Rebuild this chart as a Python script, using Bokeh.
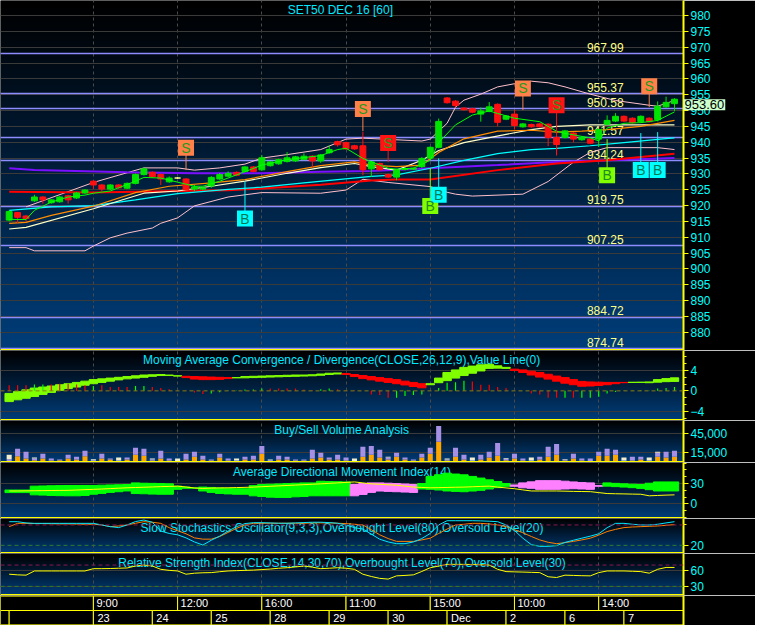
import numpy as np
from bokeh.plotting import figure
from bokeh.layouts import column
from bokeh.models import (Range1d, FixedTicker, SingleIntervalTicker, Span, Label,
                          ColumnDataSource, NumeralTickFormatter)
from bokeh.embed import file_html
from bokeh.resources import INLINE
from bokeh.core.properties import value

# ------------------------------------------------------------------ data
TITLE = "SET50 DEC 16  [60]"
LAST_PRICE = 953.60
PRICE_TICKS = list(range(880, 985, 5))

OPEN = [915.4, 917.8, 916.7, 921.5, 922.7, 920.9, 921.2, 923.1, 922.4, 924.0,
        927.7, 926.5, 925.2, 926.5, 925.5, 927.0, 929.8, 930.5, 929.8, 927.5,
        928.7, 928.4, 925.2, 925.2, 926.2, 928.4, 929.3, 930.5, 930.8, 932.2,
        931.3, 932.6, 933.2, 933.9, 934.1, 934.6, 935.6, 934.1, 936.7, 940.2,
        939.9, 938.9, 938.9, 931.6, 933.3, 929.8, 929.0, 931.4, 931.5, 932.3,
        935.0, 938.4, 954.0, 953.0, 950.8, 950.6, 948.9, 949.8, 952.0, 947.3,
        948.9, 944.9, 945.6, 945.8, 945.7, 941.5, 941.5, 942.9, 940.8, 941.0,
        941.0, 945.7, 946.7, 948.2, 947.6, 946.5, 947.6, 947.1, 951.2, 952.2]
CLOSE = [918.1, 916.3, 915.9, 922.7, 921.8, 921.8, 922.7, 921.8, 924.0, 924.9,
         926.5, 925.2, 926.5, 925.6, 927.0, 929.8, 931.6, 929.1, 928.4, 928.7,
         928.7, 925.0, 925.9, 925.6, 928.9, 929.8, 930.2, 929.6, 932.2, 930.8,
         935.1, 933.8, 934.5, 935.1, 935.4, 935.6, 934.1, 936.0, 937.7, 939.2,
         937.9, 937.9, 931.3, 933.8, 931.3, 929.0, 931.3, 931.7, 931.8, 934.9,
         938.4, 946.6, 952.5, 951.6, 950.3, 949.5, 949.9, 951.2, 946.3, 948.3,
         945.3, 945.8, 944.9, 944.9, 941.5, 939.3, 943.6, 941.0, 941.5, 939.7,
         944.0, 946.9, 948.2, 946.7, 946.2, 948.2, 946.5, 951.4, 952.6, 953.6]
HIGH = [918.5, 918.0, 917.0, 923.4, 923.0, 922.0, 923.0, 923.4, 924.3, 925.2,
        928.0, 926.8, 926.8, 926.8, 927.3, 930.1, 932.0, 930.8, 930.1, 929.2,
        929.0, 928.7, 926.5, 926.0, 929.3, 930.3, 930.8, 930.8, 932.5, 932.5,
        936.0, 934.1, 934.8, 936.9, 935.7, 936.5, 935.9, 936.3, 939.0, 940.5,
        940.2, 939.2, 943.3, 934.1, 933.6, 930.1, 931.6, 932.0, 932.0, 935.3,
        938.7, 947.5, 954.3, 953.3, 951.1, 950.9, 951.0, 952.7, 952.3, 948.6,
        950.2, 946.1, 945.9, 946.1, 946.0, 941.8, 943.9, 943.2, 941.8, 941.3,
        944.3, 948.5, 949.2, 948.5, 947.9, 948.5, 947.9, 952.9, 954.4, 953.9]
LOW = [915.0, 914.5, 914.9, 921.2, 920.6, 920.6, 920.9, 920.6, 922.1, 923.7,
       925.2, 924.6, 924.9, 925.3, 925.2, 926.7, 929.5, 928.8, 926.5, 927.2,
       928.4, 924.7, 924.6, 924.9, 925.6, 928.1, 929.0, 929.3, 930.5, 930.5,
       931.0, 932.3, 932.9, 933.6, 933.8, 934.3, 932.0, 933.5, 936.4, 938.6,
       937.6, 937.6, 929.6, 929.0, 931.0, 928.7, 928.0, 931.1, 931.2, 931.9,
       934.7, 938.1, 952.2, 951.0, 950.0, 949.2, 946.5, 949.5, 945.0, 947.0,
       944.0, 944.6, 944.6, 944.6, 938.8, 936.1, 941.2, 940.0, 940.5, 939.4,
       938.5, 945.4, 946.4, 946.4, 945.9, 946.2, 946.2, 946.6, 950.9, 949.9]

# moving averages / bands: (bar, value) pairs
BB_UP_X = [2, 10, 16, 20, 22, 25, 28, 30, 33, 37, 40, 42, 49, 50, 52, 53, 54, 56, 58, 60,
           62, 64, 66, 69, 72, 76, 77, 79]
BB_UP_Y = [919.6, 927.3, 931.9, 931.9, 931.2, 931.9, 933.1, 935.0, 936.1, 937.7,
           941.0, 941.3, 940.4, 941.0, 946.0, 951.1, 953.3, 955.2, 957.5, 958.5,
           959.3, 958.8, 957.5, 955.2, 953.2, 951.7, 951.4, 953.2]
BB_LO_X = [0, 2, 3, 9, 10, 12, 14, 17, 18, 20, 22, 26, 30, 37, 40, 42, 45, 50, 52, 53,
           55, 61, 64, 67, 69, 71, 77, 79]
BB_LO_Y = [906.7, 906.7, 905.7, 905.7, 907.2, 909.8, 911.3, 912.9, 914.4, 916.1,
           919.9, 922.7, 924.1, 923.9, 924.9, 928.3, 927.3, 926.0, 924.2, 923.6,
           923.0, 923.6, 927.6, 933.7, 936.8, 938.3, 938.3, 937.7]
MA_GREEN_X = [0, 2, 3, 5, 7, 9, 10, 12, 15, 16, 18, 20, 22, 23, 25, 28, 30, 33, 37, 39,
              40, 42, 44, 45, 46, 48, 50, 51, 53, 55, 57, 58, 60, 63, 65, 66, 69, 70, 71, 73,
              75, 77, 79]
MA_GREEN_Y = [915.6, 915.6, 918.5, 921.1, 922.7, 923.3, 923.9, 924.6, 927.7, 928.9,
              928.7, 927.4, 926.1, 926.1, 927.7, 930.7, 932.8, 934.5, 935.8, 937.7,
              938.1, 934.9, 932.8, 931.8, 931.5, 931.8, 934.3, 939.9, 945.5, 948.6,
              949.9, 949.1, 947.6, 946.5, 943.5, 942.8, 941.4, 940.4, 944.5, 946.0,
              946.2, 946.9, 949.6]
MA_ORANGE_X = [0, 2, 5, 10, 15, 19, 24, 28, 33, 37, 41, 43, 46, 49, 51, 54, 58, 62, 65, 68,
               71, 75, 79]
MA_ORANGE_Y = [914.4, 914.7, 916.9, 919.8, 924.1, 926.1, 927.2, 928.2, 930.7, 932.6,
               933.8, 932.8, 932.3, 932.8, 936.8, 941.1, 943.5, 943.8, 943.2, 943.5,
               944.0, 945.0, 946.9]
MA_CREAM_X = [0, 2, 10, 16, 20, 24, 28, 33, 37, 41, 43, 46, 49, 51, 54, 59, 62, 65, 69, 73, 79]
MA_CREAM_Y = [912.6, 913.1, 919.0, 923.9, 924.6, 926.1, 927.7, 930.2, 932.0, 933.3,
              932.3, 931.2, 934.3, 937.4, 939.9, 942.5, 944.0, 945.0, 945.5, 945.5, 945.5]
MA_CYAN_X = [0, 5, 10, 15, 20, 26, 30, 35, 39, 43, 46, 50, 54, 58, 62, 65, 69, 73, 77, 79]
MA_CYAN_Y = [918.5, 919.6, 920.0, 921.8, 923.8, 925.1, 925.8, 927.2, 928.2, 929.2,
             929.7, 931.8, 934.3, 936.4, 937.7, 938.1, 938.9, 939.9, 940.9, 941.4]
MA_RED_X = [0, 10, 20, 26, 30, 37, 43, 46, 50, 58, 65, 71, 79]
MA_RED_Y = [924.4, 924.1, 924.6, 924.8, 925.4, 926.6, 927.9, 928.2, 928.2, 931.2,
            933.3, 934.3, 936.4]
MA_PURPLE_X = [0, 3, 14, 22, 30, 37, 43, 50, 58, 65, 73, 79]
MA_PURPLE_Y = [931.8, 931.2, 930.5, 930.2, 930.2, 930.7, 930.9, 931.8, 932.8, 933.8,
               934.5, 935.0]

LEVELS = [967.99, 955.37, 950.58, 941.57, 934.24, 919.75, 907.25, 884.72, 874.74]

# trade signals: bar, kind, price of the marker box, price where its stem ends
SIG_IDX = [21, 28, 42, 45, 50, 51, 61, 65, 71, 75, 76, 77]
SIG_KIND = ["S1", "B1", "S1", "S2", "B2", "B1", "S1", "S2", "B2", "B1", "S1", "B1"]
SIG_BOX = [938.3, 915.9, 950.5, 939.8, 919.9, 923.4, 957.0, 951.7, 929.6, 931.2, 957.7, 931.2]
SIG_TIP = [931.2, 927.6, 943.5, 933.7, 931.9, 934.9, 950.2, 935.8, 941.0, 942.9, 951.1, 943.2]

MACD = [-0.5, -0.15, 0.2, 0.55, 0.75, 0.95, 1.2, 1.4, 1.65, 1.9,
        2.2, 2.35, 2.5, 2.65, 2.8, 2.95, 3.1, 3.15, 3.2, 3.1,
        2.95, 2.6, 2.3, 2.2, 2.2, 2.25, 2.4, 2.6, 2.8, 2.85,
        2.9, 2.95, 3.0, 3.05, 3.1, 3.1, 3.15, 3.3, 3.45, 3.5,
        3.2, 2.8, 2.4, 2.15, 1.9, 1.65, 1.4, 1.15, 0.85, 0.6,
        1.4, 2.5, 3.6, 4.1, 4.6, 4.85, 5.1, 5.2, 4.9, 4.6,
        4.0, 3.6, 3.1, 2.7, 2.3, 1.9, 1.5, 1.2, 0.9, 0.95,
        1.05, 1.2, 1.4, 1.6, 1.68, 1.7, 1.75, 2.2, 2.4, 2.55]
SIGNAL = [-2.1, -1.75, -1.45, -1.1, -0.7, -0.3, 0.1, 0.45, 0.75, 1.1,
          1.4, 1.65, 1.9, 2.15, 2.35, 2.5, 2.65, 2.85, 3.0, 3.0,
          2.9, 2.85, 2.8, 2.75, 2.7, 2.65, 2.6, 2.55, 2.55, 2.6,
          2.65, 2.7, 2.75, 2.8, 2.85, 2.9, 2.95, 3.05, 3.2, 3.3,
          3.4, 3.2, 3.0, 2.8, 2.6, 2.4, 2.2, 1.9, 1.65, 1.4,
          1.2, 1.6, 2.0, 2.5, 3.0, 3.45, 3.9, 4.4, 4.45, 4.4,
          4.25, 4.1, 3.85, 3.6, 3.25, 2.9, 2.6, 2.2, 1.85, 1.75,
          1.7, 1.65, 1.65, 1.65, 1.65, 1.65, 1.6, 1.7, 1.8, 1.85]
HIST = [1.08, 1.08, 1.08, 1.27, 1.27, 1.27, 1.4, 1.4, 1.27, 1.08,
        0.95, 1.08, 0.76, 0.76, 0.76, 0.95, 0.95, 0.76, 0.57, 0.32,
        0.05, -0.05, -0.32, -0.63, -0.5, -0.25, -0.05, 0.05, 0.25, 0.25,
        0.44, 0.44, 0.44, 0.44, 0.44, 0.25, 0.13, 0.32, 0.44, 0.32,
        0.13, 0.13, 0.0, -0.7, -0.83, -1.33, -1.33, -1.0, -0.83, -0.7,
        0.0, 0.57, 1.6, 1.7, 2.0, 1.84, 1.2, 1.2, 0.76, 0.57,
        0.0, 0.0, -0.5, -0.7, -1.33, -1.33, -1.33, -1.33, -1.33, -1.33,
        -1.14, -0.5, -0.2, -0.05, 0.05, 0.13, 0.05, 0.44, 0.57, 0.76]
HIST_DIR = ("rrrggrrrrr" "grrrrggrrr" "rrrrgggggg" "grrrrrrggr"
            "rrrrrrgggg" "gggggrrrrr" "rrrrrrgrgg" "gggggggggg")

VOL_BUY = [0, 9500, 6000, 3500, 6000, 3000, 3500, 6000, 4500, 9500,
           2000, 6000, 4500, 1500, 4500, 12000, 10500, 3000, 6000, 3000,
           2000, 4500, 9000, 4500, 3000, 7500, 3000, 1500, 4500, 4500,
           13500, 2000, 4500, 4500, 3000, 3000, 6000, 7500, 4500, 4500,
           3000, 2000, 9000, 12000, 7500, 4500, 9000, 4500, 3000, 7500,
           13500, 32000, 3000, 9000, 4500, 1500, 4500, 7500, 10500, 3500,
           6000, 3000, 1500, 4500, 9000, 12000, 3000, 6000, 3000, 1500,
           10500, 10500, 12000, 1500, 3000, 4500, 1500, 9000, 7500, 9000]
VOL_SELL = [5000, 11500, 10500, 2500, 7500, 3000, 1000, 6000, 4500, 8500,
            1500, 7500, 1500, 1500, 3000, 10500, 10500, 2000, 12000, 3000,
            0, 9000, 7500, 6000, 1500, 6000, 3000, 1500, 4500, 6000,
            12000, 1500, 6000, 4500, 1500, 1500, 13500, 7500, 3000, 7500,
            4500, 0, 15000, 13500, 12000, 3000, 6000, 3000, 1500, 6000,
            9000, 24000, 1500, 13500, 7500, 1500, 7500, 9000, 19500, 2000,
            7500, 3000, 1500, 4500, 15000, 16500, 1500, 7500, 3000, 4500,
            6000, 10500, 7500, 1500, 6000, 4500, 1500, 6000, 9000, 9000]
VOL_NEUTRAL = [7000, 0, 0, 1500, 0, 0, 0, 0, 0, 0,
               1500, 0, 0, 4500, 0, 0, 0, 1000, 0, 0,
               4000, 0, 0, 0, 0, 0, 0, 3000, 0, 0,
               0, 1000, 0, 0, 0, 0, 0, 0, 0, 0,
               0, 4000, 0, 0, 0, 1500, 0, 0, 0, 0,
               0, 0, 1500, 0, 0, 4500, 0, 0, 0, 1000,
               0, 0, 4500, 0, 0, 0, 1000, 0, 0, 0,
               0, 0, 0, 4500, 0, 0, 4500, 1500, 0, 0]

DI_PLUS = [20.5, 20.5, 20.5, 26.2, 26.5, 26.8, 27.0, 27.2, 27.2, 27.2,
           27.2, 27.6, 28.0, 28.3, 28.6, 31.0, 30.5, 30.3, 30.0, 29.6,
           26.2, 24.8, 23.5, 24.8, 24.3, 23.5, 23.0, 22.5, 22.4, 27.0,
           28.6, 29.0, 29.5, 30.0, 30.5, 31.0, 31.0, 33.4, 33.0, 32.8,
           32.4, 12.0, 14.0, 17.0, 19.0, 18.5, 18.0, 17.5, 17.0, 30.0,
           40.5, 43.0, 45.3, 44.0, 42.9, 40.5, 38.1, 35.5, 33.0, 30.0,
           26.0, 23.8, 23.0, 21.5, 21.5, 21.5, 22.0, 22.4, 22.0, 21.5,
           26.0, 31.0, 30.3, 29.6, 29.0, 28.6, 30.5, 32.4, 32.4, 32.4]
DI_MINUS = [16.7, 16.7, 16.7, 13.4, 13.0, 12.5, 12.2, 12.0, 12.0, 12.5,
            14.3, 15.5, 17.0, 18.0, 19.1, 15.3, 15.0, 14.5, 14.3, 14.3,
            21.5, 23.0, 23.3, 19.1, 17.0, 15.5, 14.8, 14.3, 14.3, 12.0,
            11.0, 10.0, 9.6, 9.6, 10.5, 11.0, 12.0, 12.0, 12.0, 12.0,
            12.0, 28.6, 30.0, 31.0, 31.0, 30.5, 30.0, 29.3, 28.6, 22.0,
            21.5, 20.5, 19.1, 18.5, 18.0, 19.0, 20.0, 22.0, 24.0, 26.0,
            28.0, 31.0, 32.5, 34.3, 34.3, 34.3, 33.5, 32.4, 31.5, 31.0,
            27.0, 26.2, 25.5, 24.8, 24.0, 22.9, 21.0, 19.1, 19.1, 19.1]
ADX = [19.1, 19.1, 19.3, 19.5, 19.6, 19.8, 19.9, 20.0, 20.5, 21.0,
       21.5, 22.0, 22.6, 23.2, 23.8, 24.2, 24.6, 25.0, 25.5, 25.8,
       26.2, 25.0, 23.5, 22.9, 23.3, 23.6, 23.8, 24.1, 24.4, 24.8,
       25.4, 26.0, 26.6, 27.2, 27.8, 28.4, 29.0, 29.6, 30.3, 31.0,
       31.7, 32.4, 31.0, 29.6, 28.9, 28.2, 27.6, 26.2, 24.8, 24.3,
       23.8, 24.0, 24.3, 24.6, 24.8, 25.3, 25.8, 26.2, 24.8, 23.6,
       22.4, 20.7, 19.1, 19.1, 19.1, 19.1, 18.8, 18.5, 18.3, 18.1,
       16.7, 15.3, 15.0, 14.8, 14.5, 14.3, 12.0, 12.5, 13.0, 13.4]

STOCH_K = [89.6, 89.6, 86, 84.7, 84.7, 84.7, 84.7, 84.7, 84.7, 84.7,
           84.7, 80, 75, 72.2, 80, 90, 94.5, 88, 62, 55,
           51, 42, 30, 20.9, 35, 47, 62, 75, 84, 86.7,
           86.7, 86, 85, 85, 86, 87, 88, 88, 87, 85,
           80, 72, 68, 53, 38, 30, 24.9, 24.9, 30, 40,
           55, 80, 92.5, 92.5, 92.5, 92.5, 92, 91, 89.6, 80,
           63.5, 41, 22, 17.1, 17.1, 19.1, 28.7, 35, 41.1, 47,
           53.9, 72, 84.7, 84.7, 82, 80, 80, 82, 86, 89.6]
STOCH_D = [75, 84.7, 84.7, 84, 84, 83.5, 83, 83, 82.5, 82,
           82, 80, 75, 77, 80, 85, 89.6, 88, 84.7, 72,
           63, 54, 42, 38.2, 38.2, 46, 58, 70, 80, 84.7,
           85, 85, 85, 85, 85, 85, 86, 86, 86, 85,
           84, 82, 80, 66, 51, 40, 31.6, 31.6, 31.6, 36,
           41.1, 55, 68, 80, 82, 84.7, 84.7, 83, 80, 75,
           66, 57, 46, 36, 29, 24.9, 28, 31.6, 36, 41.1,
           50, 60.6, 67, 72.2, 74, 75, 76, 77, 79, 81]
RSI = [52.8, 51.6, 51, 58.9, 58.9, 58.9, 58.9, 58.9, 58.9, 58.9,
       63.2, 63.2, 63.5, 64, 64.5, 68.2, 70, 68.2, 62, 60,
       58.9, 52.8, 54.7, 55.5, 55.8, 57.5, 58.9, 59.5, 60, 60.5,
       61.5, 62.5, 64, 65, 66.5, 68.2, 66, 63.2, 64, 65,
       64, 62, 52.8, 48.5, 45, 43.6, 49.7, 50.5, 51.6, 58,
       65, 68, 71.3, 71.3, 71.3, 71, 70.5, 70, 62, 57.7,
       57.2, 56.8, 56.3, 55.8, 48, 46.6, 51, 50.5, 50, 49.7,
       55.8, 58.9, 58.9, 58.9, 58.3, 57.7, 54.7, 62, 65.5, 65.5]

TIME_TICK_BARS = [10, 20, 30, 40, 50, 60, 70]
TIME_LABELS = ["9:00", "12:00", "16:00", "11:00", "15:00", "10:00", "14:00"]
DAY_START_BARS = [0, 10, 17, 24, 31, 38, 45, 52, 59, 66, 73]
DAY_LABELS = ["", "23", "24", "25", "28", "29", "30", "Dec", "2", "6", "7"]

PANEL_TITLES = {
    "macd": "Moving Average Convergence / Divergence(CLOSE,26,12,9),Value Line(0)",
    "vol": "Buy/Sell Volume Analysis",
    "adx": "Average Directional Movement Index(14)",
    "stoch": "Slow Stochastics Oscillator(9,3,3),Overbought Level(80),Oversold Level(20)",
    "rsi": "Relative Strength Index(CLOSE,14,30,70),Overbought Level(70),Oversold Level(30)",
}

# ------------------------------------------------------------------ style / layout
FONT = "Liberation Sans"
W = 755
AXIS_W = 40
X0, X1 = -1.03, 80.07
XMID = (X0 + X1) / 2
LEVEL_LABEL_X = 68.6
YELLOW = "#ffff00"
CYAN_TXT = "#00e8ff"
BAR = list(range(len(OPEN)))
xr = Range1d(X0, X1)


def gradient(n=200):
    t = np.linspace(0.0, 1.0, n)[:, None]
    bottom = np.array([0, 62, 122], float)[None, :]
    top = np.array([0, 0, 0], float)[None, :]
    rgb = bottom * (1 - t) + top * t
    img = np.empty((n, 1, 4), dtype=np.uint8)
    img[:, 0, :3] = rgb.astype(np.uint8)
    img[:, 0, 3] = 255
    return img.view(np.uint32).reshape(n, 1)


GRAD = gradient()


def panel(h, y0, y1, ticker, title=None):
    p = figure(width=W, height=h, x_range=xr, y_range=Range1d(y0, y1),
               output_backend="svg", toolbar_location=None, tools="",
               y_axis_location="right", min_border_left=0, min_border_right=AXIS_W,
               min_border_top=0, min_border_bottom=0)
    p.xaxis.visible = False
    p.outline_line_color = None
    p.background_fill_color = "black"
    p.border_fill_color = "black"
    p.image_rgba(image=[GRAD], x=X0, y=y0, dw=X1 - X0, dh=y1 - y0, level="image")
    p.xgrid.ticker = FixedTicker(ticks=TIME_TICK_BARS)
    p.xgrid.grid_line_color = "#4a4a4a"
    p.xgrid.grid_line_dash = "3 3"
    p.ygrid.grid_line_color = "#3a3a3a"
    ax = p.yaxis[0]
    ax.ticker = ticker
    ax.axis_line_color = YELLOW
    ax.axis_line_width = 2
    ax.major_tick_line_color = YELLOW
    ax.minor_tick_line_color = YELLOW
    ax.major_tick_in = 0
    ax.major_tick_out = 5
    ax.minor_tick_in = 0
    ax.minor_tick_out = 3
    ax.major_label_text_color = "#00ffff"
    ax.major_label_text_font = FONT
    ax.major_label_text_font_size = "12px"
    ax.major_label_standoff = 2
    p.add_layout(Span(location=y0, dimension="width", line_color=YELLOW, line_width=3))
    if title:
        p.text(x=[XMID], y=[y1], text=[title], text_align="center", text_baseline="top",
               y_offset=2, text_color=CYAN_TXT, text_font=value(FONT), text_font_size="12px")
    return p


# ------------------------------------------------------------------ main price panel
pm = panel(350, 874.2, 984.8, FixedTicker(ticks=PRICE_TICKS), TITLE)
pm.hspan(y=LEVELS, line_color="#8c8cff", line_width=1.5)
pm.text(x=[LEVEL_LABEL_X] * len(LEVELS), y=LEVELS, text=[f"{v:.2f}" for v in LEVELS],
        text_baseline="bottom", y_offset=-2, text_color="#ffff88",
        text_font=value(FONT), text_font_size="12px")

pm.line(BB_LO_X, BB_LO_Y, line_color="#ffc0cc", line_width=1)
pm.line(BB_UP_X, BB_UP_Y, line_color="#ffc0cc", line_width=1)
pm.line(MA_PURPLE_X, MA_PURPLE_Y, line_color="#7a10ff", line_width=2)
pm.line(MA_RED_X, MA_RED_Y, line_color="#ff0000", line_width=2)
pm.line(MA_CYAN_X, MA_CYAN_Y, line_color="#00ffff", line_width=1.2)
pm.line(MA_CREAM_X, MA_CREAM_Y, line_color="#ffffc8", line_width=1.2)
pm.line(MA_ORANGE_X, MA_ORANGE_Y, line_color="#ff8c00", line_width=1.2)

cols = ["#00e400" if c > o else ("#ff1010" if c < o else "#ffff80") for o, c in zip(OPEN, CLOSE)]
csrc = ColumnDataSource(dict(x=BAR, h=HIGH, l=LOW, col=cols,
                             top=[max(o, c) for o, c in zip(OPEN, CLOSE)],
                             bot=[min(o, c) for o, c in zip(OPEN, CLOSE)]))
pm.segment(x0="x", y0="h", x1="x", y1="l", line_color="col", line_width=1, source=csrc)
pm.vbar(x="x", width=0.7, top="top", bottom="bot", fill_color="col", line_color="col", source=csrc)
pm.line(MA_GREEN_X, MA_GREEN_Y, line_color="#00ff00", line_width=1)

SIG_FILL = {"S1": "#ff8048", "S2": "#ff1414", "B1": "#00ffff", "B2": "#80ff00"}
SIG_TEXT = {"S1": "#1f9a1f", "S2": "#1f9a1f", "B1": "#007a55", "B2": "#1f8a1f"}
ssrc = ColumnDataSource(dict(x=SIG_IDX, box=SIG_BOX, tip=SIG_TIP,
                             fill=[SIG_FILL[k] for k in SIG_KIND],
                             tcol=[SIG_TEXT[k] for k in SIG_KIND],
                             letter=[k[0] for k in SIG_KIND]))
pm.segment(x0="x", y0="box", x1="x", y1="tip", line_color="fill", line_width=1, source=ssrc)
pm.rect(x="x", y="box", width=16, height=16, width_units="screen", height_units="screen",
        fill_color="fill", line_color=None, source=ssrc)
pm.text(x="x", y="box", text="letter", text_align="center", text_baseline="middle",
        text_color="tcol", text_font=value(FONT), text_font_size="14px", source=ssrc)

# last-price tag drawn in the right-hand margin (side panel, so it is not clipped)
pm.add_layout(Label(x=X1, y=LAST_PRICE, text=f"{LAST_PRICE:.2f}", text_align="left",
                    text_baseline="top", text_color="black", text_font=FONT,
                    text_font_size="13px", background_fill_color="#ccffcc", padding=1),
              "right")

# ------------------------------------------------------------------ MACD
pmacd = panel(70, -5.8, 7.9, SingleIntervalTicker(interval=4, num_minor_ticks=3), PANEL_TITLES["macd"])
pmacd.ygrid.ticker = FixedTicker(ticks=[-4, 4])
msrc = ColumnDataSource(dict(
    x=BAR, top=[max(a, b) for a, b in zip(MACD, SIGNAL)],
    bot=[min(a, b) for a, b in zip(MACD, SIGNAL)],
    col=["#80ff00" if a >= b else "#ff0000" for a, b in zip(MACD, SIGNAL)],
    hist=HIST, hcol=["#00ff00" if d == "g" else "#ff0000" for d in HIST_DIR]))
pmacd.vbar(x="x", width=1.0, top="top", bottom="bot", fill_color="col", line_color="col", source=msrc)
pmacd.add_layout(Span(location=0, dimension="width", line_color="#8a7a10", line_dash="4 3", line_width=1))
pmacd.vbar(x="x", width=0.14, top="hist", bottom=0, fill_color="hcol", line_color=None, source=msrc)

# ------------------------------------------------------------------ volume
pv = panel(42, 0, 64500, FixedTicker(ticks=[15000, 45000]), PANEL_TITLES["vol"])
pv.yaxis.formatter = NumeralTickFormatter(format="0,0")
b1 = VOL_BUY
b2 = [a + b for a, b in zip(VOL_BUY, VOL_SELL)]
b3 = [a + b for a, b in zip(b2, VOL_NEUTRAL)]
pv.vbar(x=BAR, width=0.6, bottom=0, top=b1, fill_color="#ffa500", line_color=None)
pv.vbar(x=BAR, width=0.6, bottom=b1, top=b2, fill_color="#a690e6", line_color=None)
pv.vbar(x=BAR, width=0.6, bottom=b2, top=b3, fill_color="#f3edcc", line_color=None)

# ------------------------------------------------------------------ ADX
padx = panel(56, -21.4, 61, FixedTicker(ticks=[0, 30], minor_ticks=[-20, -10, 10, 20, 40, 50, 60]),
             PANEL_TITLES["adx"])
asrc = ColumnDataSource(dict(
    x=BAR, top=[max(a, b) for a, b in zip(DI_PLUS, DI_MINUS)],
    bot=[min(a, b) for a, b in zip(DI_PLUS, DI_MINUS)],
    col=["#00ff00" if a >= b else "#ff80ff" for a, b in zip(DI_PLUS, DI_MINUS)]))
padx.vbar(x="x", width=1.0, top="top", bottom="bot", fill_color="col", line_color="col", source=asrc)
padx.line(BAR, ADX, line_color="#ffff00", line_width=1)

# ------------------------------------------------------------------ Stochastics
pst = panel(35, -4, 99, FixedTicker(ticks=[20], minor_ticks=[80]), PANEL_TITLES["stoch"])
pst.ygrid.grid_line_color = None
pst.add_layout(Span(location=80, dimension="width", line_color="#8a1850", line_dash="4 3", line_width=1))
pst.add_layout(Span(location=20, dimension="width", line_color="#2f7a2f", line_dash="4 3", line_width=1))
pst.line(BAR, STOCH_D, line_color="#ff8000", line_width=1)
pst.line(BAR, STOCH_K, line_color="#00e8ff", line_width=1)

# ------------------------------------------------------------------ RSI
prsi = panel(42, 12.8, 91.7, FixedTicker(ticks=[30, 60]), PANEL_TITLES["rsi"])
prsi.add_layout(Span(location=70, dimension="width", line_color="#8a1850", line_dash="4 3", line_width=1))
prsi.add_layout(Span(location=30, dimension="width", line_color="#2f7a2f", line_dash="4 3", line_width=1))
prsi.line(BAR, RSI, line_color="#ffff00", line_width=1)

# ------------------------------------------------------------------ time axis
pa = figure(width=W, height=30, x_range=xr, y_range=Range1d(-0.04, 2.04),
            output_backend="svg", toolbar_location=None, tools="",
            y_axis_location="right", min_border_left=0, min_border_right=AXIS_W,
            min_border_top=0, min_border_bottom=0)
pa.xaxis.visible = False
pa.grid.visible = False
pa.outline_line_color = None
pa.background_fill_color = "black"
pa.border_fill_color = "black"
pa.yaxis.ticker = FixedTicker(ticks=[])
pa.yaxis.axis_line_color = YELLOW
pa.yaxis.axis_line_width = 2
pa.yaxis.major_label_text_font_size = "0px"
tl = [X0] + TIME_TICK_BARS
tr = TIME_TICK_BARS + [X1]
pa.quad(left=tl, right=tr, bottom=1, top=2, fill_color="black", line_color=YELLOW, line_width=1)
dl = [X0] + DAY_START_BARS
dr = DAY_START_BARS + [X1]
pa.quad(left=dl, right=dr, bottom=0, top=1, fill_color="black", line_color=YELLOW, line_width=1)
pa.text(x=TIME_TICK_BARS, y=[1.5] * len(TIME_TICK_BARS), text=TIME_LABELS, x_offset=3,
        text_baseline="middle", text_color="white", text_font=value(FONT), text_font_size="11px")
pa.text(x=DAY_START_BARS, y=[0.5] * len(DAY_START_BARS), text=DAY_LABELS, x_offset=4,
        text_baseline="middle", text_color="white", text_font=value(FONT), text_font_size="11px")

layout = column(pm, pmacd, pv, padx, pst, prsi, pa, spacing=0)
open("out.html", "w").write(file_html(layout, INLINE))
